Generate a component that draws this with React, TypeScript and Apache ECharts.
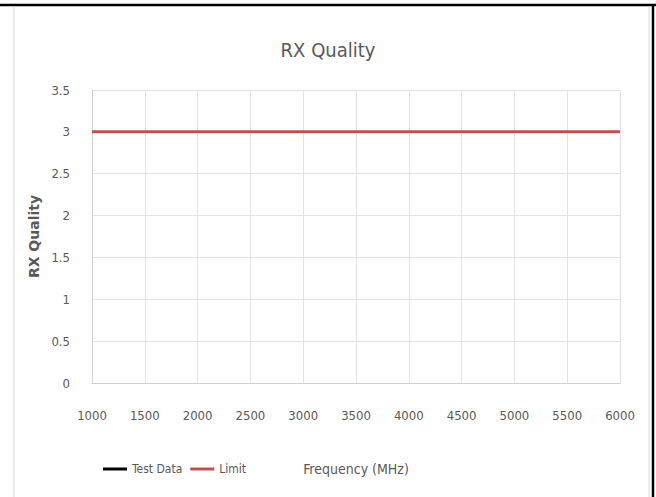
import React, { useEffect, useRef } from "react";
import * as echarts from "echarts";

const titleText = "RX Quality";
const xAxisName = "Frequency (MHz)";
const yAxisName = "RX Quality";
const testDataX: number[] = [];
const testDataY: number[] = [];
const limitX = [1000, 6000];
const limitY = [3, 3];
const xMin = 1000;
const xMax = 6000;
const xStep = 500;
const yMin = 0;
const yMax = 3.5;
const yStep = 0.5;

const FONT = "'DejaVu Sans Condensed', 'Liberation Sans', sans-serif";
const GREY = "#595959";

export default function App() {
  const ref = useRef<HTMLDivElement>(null);
  useEffect(() => {
    document.body.style.margin = "0";
    if (!ref.current) return;
    const chart = echarts.init(ref.current, null, { renderer: "svg" });
    chart.setOption({
      animation: false,
      backgroundColor: "#ffffff",
      title: {
        text: titleText,
        left: "center",
        top: 35,
        textStyle: { fontFamily: FONT, fontSize: 20, fontWeight: "normal", color: GREY },
      },
      legend: {
        left: 98,
        top: 458,
        itemWidth: 24,
        itemHeight: 3,
        itemGap: 8,
        icon: "rect",
        textStyle: { fontFamily: FONT, fontSize: 12, color: GREY },
        data: ["Test Data", "Limit"],
      },
      grid: { left: 92, right: 36, top: 90, bottom: 114 },
      xAxis: {
        type: "value",
        min: xMin,
        max: xMax,
        interval: xStep,
        name: xAxisName,
        nameLocation: "middle",
        nameGap: 79,
        nameTextStyle: { fontFamily: FONT, fontSize: 14, color: GREY },
        axisLine: { show: true, lineStyle: { color: "#d0d0d0" } },
        axisTick: { show: false },
        axisLabel: { fontFamily: FONT, fontSize: 13, color: GREY, margin: 26, formatter: (v: number) => String(v) },
        splitLine: { show: true, lineStyle: { color: "#e3e3e3" } },
      },
      yAxis: {
        type: "value",
        min: yMin,
        max: yMax,
        interval: yStep,
        name: yAxisName,
        nameLocation: "middle",
        nameGap: 48,
        nameTextStyle: { fontFamily: "'DejaVu Sans', sans-serif", fontSize: 14, fontWeight: "bold", color: GREY },
        axisLine: { show: true, lineStyle: { color: "#d0d0d0" } },
        axisTick: { show: false },
        axisLabel: { fontFamily: FONT, fontSize: 13, color: GREY, margin: 22 },
        splitLine: { show: true, lineStyle: { color: "#e3e3e3" } },
      },
      series: [
        {
          name: "Test Data",
          type: "line",
          showSymbol: false,
          itemStyle: { color: "#000000" },
          lineStyle: { color: "#000000", width: 2 },
          data: testDataX.map((x, i) => [x, testDataY[i]]),
        },
        {
          name: "Limit",
          type: "line",
          showSymbol: false,
          itemStyle: { color: "#C0504D" },
          lineStyle: { color: "#C0504D", width: 3 },
          data: limitX.map((x, i) => [x, limitY[i]]),
        },
      ],
      graphic: [
        { type: "line", shape: { x1: 14, y1: 7, x2: 14, y2: 497 }, style: { stroke: "#d9d9d9", lineWidth: 1 } },
        { type: "line", shape: { x1: 649, y1: 7, x2: 649, y2: 497 }, style: { stroke: "#d9d9d9", lineWidth: 1 } },
        { type: "line", shape: { x1: 0, y1: 5, x2: 656, y2: 5 }, style: { stroke: "#000000", lineWidth: 2.5 } },
        { type: "line", shape: { x1: 653, y1: 4, x2: 653, y2: 497 }, style: { stroke: "#000000", lineWidth: 2.5 } },
      ],
    });
    return () => chart.dispose();
  }, []);
  return <div ref={ref} style={{ position: "absolute", left: 0, top: 0, width: 656, height: 497 }} />;
}
